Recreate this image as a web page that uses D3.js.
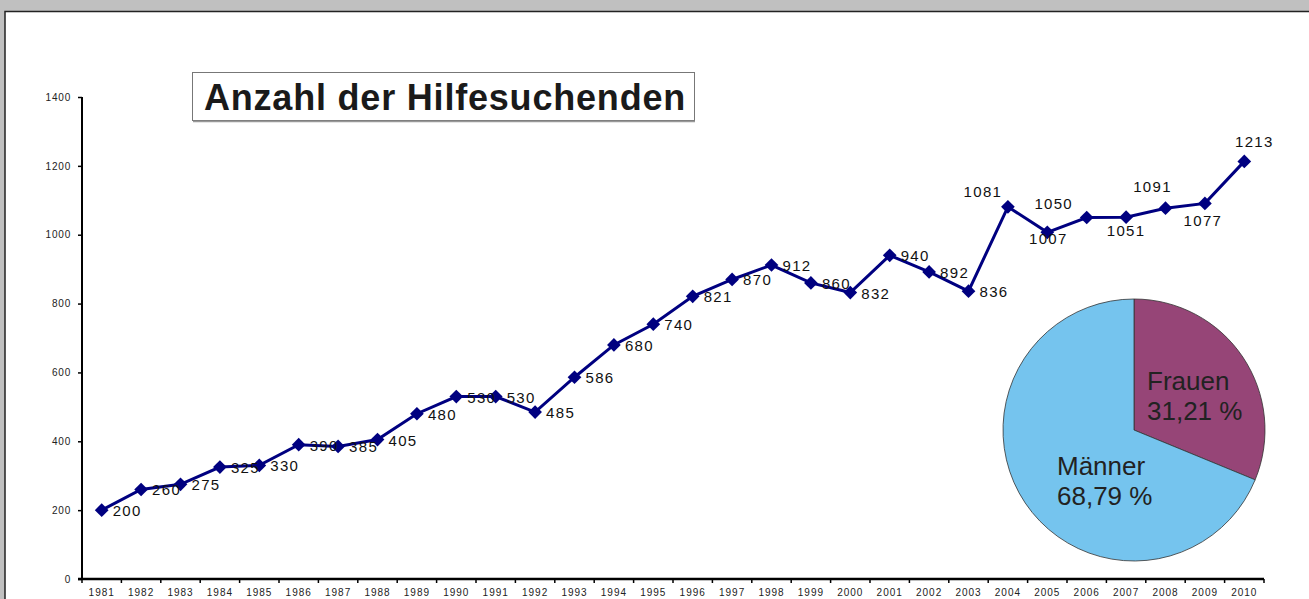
<!DOCTYPE html>
<html>
<head>
<meta charset="utf-8">
<script src="https://cdn.jsdelivr.net/npm/d3@7"></script>
<style>
  body { margin: 0; background: #c0c0c0; }
  svg { display: block; }
</style>
</head>
<body>
<div id="chart"></div>
<script>
// Anzahl der Hilfesuchenden 1981-2010 + Frauen/Maenner Anteil

const years = d3.range(1981, 2011).map(String);
const counts = [200, 260, 275, 325, 330, 390, 385, 405, 480, 530,
                530, 485, 586, 680, 740, 821, 870, 912, 860, 832,
                940, 892, 836, 1081, 1007, 1050, 1051, 1077, 1091, 1213];
// labels as printed in the original (some are shifted to the neighbour point)
const pointLabels = ["200", "260", "275", "325", "330", "390", "385", "405", "480", "530",
                     "530", "485", "586", "680", "740", "821", "870", "912", "860", "832",
                     "940", "892", "836", "1081", "1007", "1050", "1051", "1091", "1077", "1213"];
const yTicks = [0, 200, 400, 600, 800, 1000, 1200, 1400];

const pieNames = ["Frauen", "Männer"];
const pieShares = [31.21, 68.79];
const pieLabels = ["31,21 %", "68,79 %"];

const width = 1309;
const height = 599;
const margin = {left: 82, right: 45, top: 97, bottom: 20};

// label placement per point: [dx, dy, anchor]
const labelPos = {
  23: [-25, -10, "middle"],
  24: [1, 12, "middle"],
  25: [-33, -9, "middle"],
  26: [0, 19, "middle"],
  27: [-13, -16, "middle"],
  28: [-2, 23, "middle"],
  29: [10, -14, "middle"]
};

const svg = d3.select("#chart")
  .append("svg")
  .attr("width", width)
  .attr("height", height);

// white panel
svg.append("rect")
  .attr("x", 5).attr("y", 11.5)
  .attr("width", width).attr("height", height)
  .attr("fill", "#fff")
  .attr("stroke", "#222")
  .attr("stroke-width", 1.5);

const xScale = d3.scaleBand()
  .domain(years)
  .range([margin.left, width - margin.right]);

const yScale = d3.scaleLinear()
  .domain([0, 1400])
  .range([height - margin.bottom, margin.top]);

// y axis
const yAxis = svg.append("g")
  .attr("transform", `translate(${margin.left},0)`)
  .call(d3.axisLeft(yScale).tickValues(yTicks).tickFormat(d3.format("d")).tickSize(4).tickPadding(7));
yAxis.select(".domain").attr("stroke-width", 2).attr("d", `M0,${yScale(1400)}V${yScale(0)}`);
yAxis.selectAll(".tick line").attr("stroke-width", 1.5);
yAxis.selectAll("text")
  .attr("font-family", "Arial, 'Liberation Sans', sans-serif")
  .attr("font-size", "10px")
  .attr("letter-spacing", "0.8px")
  .attr("fill", "#222");

// x axis, ticks between categories
const xAxis = svg.append("g")
  .attr("transform", `translate(0,${yScale(0)})`)
  .call(d3.axisBottom(xScale).tickSize(0).tickPadding(10));
xAxis.select(".domain").attr("stroke-width", 2.5).attr("d", `M${margin.left - 4},0H${width - margin.right}`);
xAxis.selectAll("text")
  .attr("font-family", "Arial, 'Liberation Sans', sans-serif")
  .attr("font-size", "10px")
  .attr("letter-spacing", "1px")
  .attr("fill", "#222");
svg.append("g")
  .selectAll("line")
  .data(years.concat(["end"]))
  .enter()
  .append("line")
    .attr("x1", (d, i) => margin.left + i * xScale.bandwidth())
    .attr("x2", (d, i) => margin.left + i * xScale.bandwidth())
    .attr("y1", yScale(0))
    .attr("y2", yScale(0) + 4)
    .attr("stroke", "#000")
    .attr("stroke-width", 1.5);

const xc = (d, i) => xScale(years[i]) + xScale.bandwidth() / 2;

// line
const line = d3.line()
  .x((d, i) => xc(d, i))
  .y(d => yScale(d));

svg.append("path")
  .datum(counts)
  .attr("d", line)
  .attr("fill", "none")
  .attr("stroke", "#000080")
  .attr("stroke-width", 3);

// diamond markers
svg.selectAll(".marker")
  .data(counts)
  .enter()
  .append("path")
    .attr("class", "marker")
    .attr("d", d3.symbol().type(d3.symbolDiamond2).size(120))
    .attr("transform", (d, i) => `translate(${xc(d, i)},${yScale(d)})`)
    .attr("fill", "#000080");

// data labels
svg.selectAll(".lbl")
  .data(counts)
  .enter()
  .append("text")
    .attr("class", "lbl")
    .attr("x", (d, i) => xc(d, i) + (labelPos[i] ? labelPos[i][0] : 11))
    .attr("y", (d, i) => yScale(d) + (labelPos[i] ? labelPos[i][1] : 6))
    .attr("text-anchor", (d, i) => labelPos[i] ? labelPos[i][2] : "start")
    .attr("font-family", "Arial, 'Liberation Sans', sans-serif")
    .attr("font-size", "15px")
    .attr("letter-spacing", "1.3px")
    .attr("fill", "#111")
    .text((d, i) => pointLabels[i]);

// title box
svg.append("rect")
  .attr("x", 192.5).attr("y", 72.5)
  .attr("width", 502).attr("height", 48)
  .attr("fill", "#fff")
  .attr("stroke", "#777")
  .attr("stroke-width", 1);
svg.append("line")
  .attr("x1", 193).attr("x2", 695)
  .attr("y1", 121.5).attr("y2", 121.5)
  .attr("stroke", "#999")
  .attr("stroke-width", 1.5);
svg.append("text")
  .attr("x", 445)
  .attr("y", 110)
  .attr("text-anchor", "middle")
  .attr("font-family", "Arial, 'Liberation Sans', sans-serif")
  .attr("font-size", "36px")
  .attr("font-weight", "bold")
  .attr("letter-spacing", "0.8px")
  .attr("fill", "#1a1a1a")
  .text("Anzahl der Hilfesuchenden");

// pie
const pieColors = d3.scaleOrdinal().domain(pieNames).range(["#964577", "#75c4ee"]);
const radius = 131;
const pieG = svg.append("g").attr("transform", "translate(1134,430)");
const arcs = d3.pie().sort(null)(pieShares);
const arc = d3.arc().innerRadius(0).outerRadius(radius);

pieG.selectAll("path")
  .data(arcs)
  .enter()
  .append("path")
    .attr("d", arc)
    .attr("fill", (d, i) => pieColors(pieNames[i]))
    .attr("stroke", "#333")
    .attr("stroke-width", 0.8);

const pieTextPos = [[13, -40], [-77, 45]];
pieNames.forEach((name, i) => {
  const t = pieG.append("text")
    .attr("x", pieTextPos[i][0])
    .attr("y", pieTextPos[i][1])
    .attr("font-family", "Arial, 'Liberation Sans', sans-serif")
    .attr("font-size", "26px")
    .attr("fill", "#222");
  t.append("tspan").attr("x", pieTextPos[i][0]).text(name);
  t.append("tspan").attr("x", pieTextPos[i][0]).attr("dy", 30).text(pieLabels[i]);
});
</script>
</body>
</html>
